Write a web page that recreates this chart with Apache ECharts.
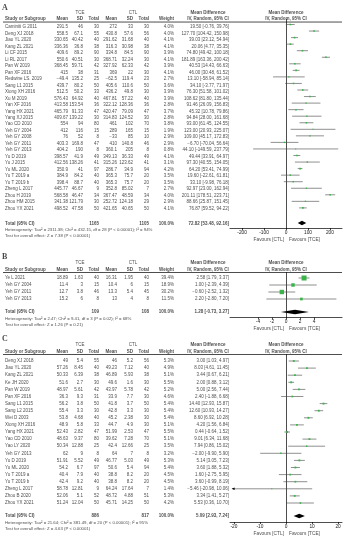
<!DOCTYPE html>
<html><head><meta charset="utf-8">
<script src="https://cdn.jsdelivr.net/npm/echarts@6/dist/echarts.min.js"></script>
<style>html,body{margin:0;padding:0;background:#fff}#c{width:350px;height:550px}</style>
</head><body><div id="c"></div>
<script>
// ================= DATA =================
// Panel A
const studiesA = ['Caminiti G 2011','Deng XJ 2018','Jiao YL 2020','Kang ZL 2021','Li CF 2015','Li RL 2017','Pan W 2019','Pan XF 2016','Redwine LS. 2019','Sang L1 2015','Xiong XH 2016','Xu M 2019','Yan XF 2016','Yang HX 2021','Yang XJ 2015','Yao CD 2010','Yeh GY 2004','Yeh GY 2008','Yeh GY 2011','Yeh GY 2013','Yu D 2019','Yu J 2015','Yu ML 2020','Yu T 2019 a','Yu T 2019 b','Zheng L 2017','Zhou H 2019','Zhou HM 2015','Zhou YX 2021'];
const tceMeanA = [291.5,558.5,330.65,336.36,409.6,550.6,368.45,415,-49.4,439.7,512.5,576.43,413.58,465.79,409.67,554,412,76,403.3,404.2,398.57,412.56,350.9,384.9,398.4,445.77,568.58,341.38,498.52];
const tceSdA = [46,67.1,40.42,36.8,89.2,40.51,59.71,38,135.2,80.2,50.2,64.92,153.54,91.33,139.22,94,116,52,169.8,190,41.9,138.26,41,84.2,88.7,46.67,46.47,121.79,47.58];
const tceNA = [30,55,40,38,90,30,42,31,25,50,33,40,36,47,30,80,15,8,47,8,49,41,97,40,40,9,34,30,50];
const ctlMeanA = [272,430.8,291.62,316.3,334.8,368.71,327.92,369,-62.5,405.6,436.2,467.81,322.12,420.47,314.83,461,289,-33,410,360.1,349.13,315.26,286.7,365.3,365.3,352.8,367.47,252.72,421.65];
const ctlSdA = [33,57.6,31.68,30.98,84.5,32.24,62.33,22,119.4,110.6,49.8,57.22,128.36,79.09,124.52,102,165,85,140.8,205,36.33,123.62,34.9,75.7,75.7,85.02,48.59,124.18,40.65];
const ctlNA = [30,56,40,38,90,30,42,30,23,50,30,40,36,47,30,70,15,10,46,8,49,41,94,20,20,7,34,29,50];
const weightA = [4.0,4.0,4.1,4.1,3.9,4.1,3.9,4.1,2.7,3.6,3.9,3.9,2.8,3.7,2.8,3.8,1.9,2.9,2.9,0.8,4.1,3.1,4.2,3.5,3.5,2.7,4.0,2.9,4.1];
const mdA = [19.50,127.70,39.03,20.06,74.80,181.89,40.53,46.00,13.10,34.10,76.30,108.62,91.46,45.32,94.84,93.00,123.00,109.00,-6.70,44.10,49.44,97.30,64.20,19.60,33.10,92.97,201.11,88.66,76.87];
const loA = [-0.76,104.42,23.12,4.77,49.42,163.36,14.43,30.48,-58.94,-3.77,51.58,81.80,26.09,10.78,28.00,61.45,20.93,45.17,-70.04,-149.59,33.91,40.55,53.41,-22.61,-9.98,23.00,178.51,25.87,59.52];
const hiA = [39.76,150.98,54.94,35.35,100.18,200.42,66.63,61.52,85.14,71.97,101.02,135.44,156.83,79.86,161.68,124.55,225.07,172.83,56.64,237.79,64.97,154.05,74.99,61.81,76.18,162.94,223.71,151.45,94.22];
const totalA = [1165, 1105, 72.82, 53.48, 92.16];
const hetA = 'Heterogeneity: Tau² = 2311.38; Chi² = 432.15, df = 28 (P < 0.00001); I² = 94%';
const testA = 'Test for overall effect: Z = 7.38 (P < 0.00001)';
const ticksA = [-200, -100, 0, 100, 200];

// Panel B
const studiesB = ['Ye L 2021','Yeh GY 2004','Yeh GY 2011','Yeh GY 2013'];
const tceMeanB = [18.89,11.4,12.7,15.2];
const tceSdB = [1.63,3,3.8,6];
const tceNB = [40,15,46,8];
const ctlMeanB = [16.31,10.4,13.3,13];
const ctlSdB = [1.95,6,5.4,4];
const ctlNB = [40,15,45,8];
const weightB = [39.4,18.9,30.2,11.5];
const mdB = [2.58,1.00,-0.60,2.20];
const loB = [1.79,-2.39,-2.52,-2.80];
const hiB = [3.37,4.39,1.32,7.20];
const totalB = [109, 108, 1.28, -0.73, 3.27];
const hetB = 'Heterogeneity: Tau² = 2.47; Chi² = 9.41, df = 3 (P = 0.02); I² = 68%';
const testB = 'Test for overall effect: Z = 1.26 (P = 0.21)';
const ticksB = [-4, -2, 0, 2, 4];

// Panel C
const studiesC = ['Deng XJ 2018','Jiao YL 2020','Kang ZL 2021','Ke JH 2020','Pan W 2019','Pan XF 2016','Sang L1 2015','Sang L2 2015','Wei D 2003','Xiong XH 2016','Yang HX 2021','Yao CD 2010','Yao LY 2020','Yeh GY 2013','Yu D 2019','Yu ML 2020','Yu T 2019 a','Yu T 2019 b','Zheng L 2017','Zhou B 2020','Zhou YX 2021'];
const tceMeanC = [49,57.26,50.33,51.6,48.97,36.3,56.2,55.4,53.8,48.9,52.43,48.63,50.34,62,51.91,54.2,40.4,42.4,58.78,52.06,51.24];
const tceSdC = [5.4,8.45,6.39,2.7,5.61,9.3,3.8,3.3,4.68,5.8,2.82,9.37,12.88,9,5.52,6.7,7.9,9.2,12.81,5.1,12.04];
const tceNC = [55,40,38,30,42,31,50,30,40,33,47,80,25,8,49,97,40,40,9,52,50];
const ctlMeanC = [46,49.23,46.89,49.6,43.97,33.9,41.8,42.8,45.2,44.7,51.99,39.62,42.4,64,46.77,50.6,38.8,38.8,64.24,48.72,45.71];
const ctlSdC = [5.2,7.12,5.93,1.6,5.78,7.7,3.7,3.3,2.38,4.9,2.53,7.28,12.66,7,5.03,5.4,8.2,8.2,17.64,4.88,14.25];
const ctlNC = [56,40,38,30,42,30,50,30,30,30,47,70,25,8,49,94,20,20,7,51,50];
const weightC = [5.3,4.9,5.1,5.5,5.2,4.6,5.4,5.4,5.4,5.1,5.5,5.1,3.5,3.2,5.3,5.4,4.5,4.5,1.4,5.3,4.2];
const mdC = [3.00,8.03,3.44,2.00,5.00,2.40,14.40,12.60,8.60,4.20,0.44,9.01,7.94,-2.00,5.14,3.60,1.60,3.60,-5.46,3.34,5.53];
const loC = [1.03,4.61,0.67,0.88,2.56,-1.88,12.93,10.93,6.92,1.56,-0.64,6.34,0.86,-9.90,3.05,1.88,-2.75,-0.99,-20.98,1.41,0.36];
const hiC = [4.97,11.45,6.21,3.12,7.44,6.68,15.87,14.27,10.28,6.84,1.52,11.68,15.02,5.90,7.23,5.32,5.95,8.19,10.06,5.27,10.70];
const totalC = [886, 817, 5.09, 2.93, 7.24];
const hetC = 'Heterogeneity: Tau² = 21.64; Chi² = 381.49, df = 20 (P < 0.00001); I² = 95%';
const testC = 'Test for overall effect: Z = 4.63 (P < 0.00001)';
const ticksC = [-20, -10, 0, 10, 20];

// ================= LAYOUT (pixels) =================
const FONT = 'Liberation Sans, Arial, sans-serif';
const FS = 4.5, FS_NOTE = 4.3, FS_AX = 4.8;
const COL = {name:5, tm:68, ts:83, tn:99, cm:117, cs:133, cn:149, w:174, md:229, tce:80, ctl:133, mdh1:208, mdh2:286, ruleL:3, ruleR:342};
const FOREST = {left:230, width:112};
const panels = [
  {key:'A', d:{names:studiesA,tm:tceMeanA,ts:tceSdA,tn:tceNA,cm:ctlMeanA,cs:ctlSdA,cn:ctlNA,w:weightA,md:mdA,lo:loA,hi:hiA,tot:totalA,het:hetA,test:testA,ticks:ticksA},
   L:{label:5, h1:10, h2:16, rule:19.3, rowY:24.5, step:6.55, total:223, het:230, test:236, axis:228, fav:240, xmin:-255, xmax:255, clip:null}},
  {key:'B', d:{names:studiesB,tm:tceMeanB,ts:tceSdB,tn:tceNB,cm:ctlMeanB,cs:ctlSdB,cn:ctlNB,w:weightB,md:mdB,lo:loB,hi:hiB,tot:totalB,het:hetB,test:testB,ticks:ticksB},
   L:{label:257, h1:263, h2:269.5, rule:272.5, rowY:278, step:7, total:312, het:319, test:325, axis:317.5, fav:329, xmin:-8, xmax:8, clip:null}},
  {key:'C', d:{names:studiesC,tm:tceMeanC,ts:tceSdC,tn:tceNC,cm:ctlMeanC,cs:ctlSdC,cn:ctlNC,w:weightC,md:mdC,lo:loC,hi:hiC,tot:totalC,het:hetC,test:testC,ticks:ticksC},
   L:{label:339, h1:345, h2:351.5, rule:354.5, rowY:361, step:7.1, total:516, het:522.5, test:528.5, axis:522, fav:534, xmin:-21.5, xmax:21.5, clip:-20.5}}
];

const num = v => (v < 0 ? '−' + String(-v) : String(v));
const f2 = v => (v < 0 ? '-' : '') + Math.abs(v).toFixed(2);
const ci = (m, l, h) => (m < 0 ? '−' + Math.abs(m).toFixed(2) : m.toFixed(2)) + ' [' + f2(l) + ', ' + f2(h) + ']';

const grids = [], xAxis = [], yAxis = [], series = [];

panels.forEach((p, pi) => {
  const L = p.L, d = p.d;
  const r = px => (px - L.rowY) / L.step + 1;
  const tg = grids.length;
  const rMin = r(L.label - 8), rMax = r(L.fav + 8);
  grids.push({left:0, width:350, top:L.rowY + (rMin - 1) * L.step, height:(rMax - rMin) * L.step});
  xAxis.push({type:'value', gridIndex:tg, min:0, max:350, show:false});
  yAxis.push({type:'value', gridIndex:tg, min:rMin, max:rMax, inverse:true, show:false});

  const items = [];
  const T = (x, row, text, pos, opt) => items.push({value:[x, row], t:text, label:Object.assign({position:pos}, opt || {})});
  const B = {fontWeight:'bold'};
  T(2, r(L.label), p.key, 'right', {fontFamily:'Liberation Serif, serif', fontWeight:'bold', fontSize:8});
  T(COL.tce, r(L.h1), 'TCE', 'inside', {});
  T(COL.ctl, r(L.h1), 'CTL', 'inside', {});
  T(COL.mdh1, r(L.h1), 'Mean Difference', 'inside', B);
  T(COL.mdh2, r(L.h1), 'Mean Difference', 'inside', B);
  const h2 = r(L.h2);
  T(COL.name, h2, 'Study or Subgroup', 'right', B);
  T(COL.tm, h2, 'Mean', 'left', B); T(COL.ts, h2, 'SD', 'left', B); T(COL.tn, h2, 'Total', 'left', B);
  T(COL.cm, h2, 'Mean', 'left', B); T(COL.cs, h2, 'SD', 'left', B); T(COL.cn, h2, 'Total', 'left', B);
  T(COL.w, h2, 'Weight', 'left', B);
  T(COL.mdh1, h2, 'IV, Random, 95% CI', 'inside', B);
  T(COL.mdh2, h2, 'IV, Random, 95% CI', 'inside', B);
  d.names.forEach((nm, i) => {
    const row = i + 1;
    T(COL.name, row, nm, 'right');
    T(COL.tm, row, num(d.tm[i]), 'left'); T(COL.ts, row, num(d.ts[i]), 'left'); T(COL.tn, row, String(d.tn[i]), 'left');
    T(COL.cm, row, num(d.cm[i]), 'left'); T(COL.cs, row, num(d.cs[i]), 'left'); T(COL.cn, row, String(d.cn[i]), 'left');
    T(COL.w, row, d.w[i].toFixed(1) + '%', 'left');
    T(COL.md, row, ci(d.md[i], d.lo[i], d.hi[i]), 'left');
  });
  const tr = r(L.total);
  T(COL.name, tr, 'Total (95% CI)', 'right', B);
  T(COL.tn, tr, String(d.tot[0]), 'left', B);
  T(COL.cn, tr, String(d.tot[1]), 'left', B);
  T(COL.w, tr, '100.0%', 'left', B);
  T(COL.md, tr, ci(d.tot[2], d.tot[3], d.tot[4]), 'left', B);
  T(COL.name, r(L.het), d.het, 'right', {fontSize:FS_NOTE});
  T(COL.name, r(L.test), d.test, 'right', {fontSize:FS_NOTE});
  const fz = FOREST.left + FOREST.width * (0 - L.xmin) / (L.xmax - L.xmin);
  T(fz - 2, r(L.fav), 'Favours [CTL]', 'left', {fontSize:FS_AX});
  T(fz + 3, r(L.fav), 'Favours [TCE]', 'right', {fontSize:FS_AX});

  series.push({type:'scatter', xAxisIndex:tg, yAxisIndex:tg, symbolSize:0, silent:true, animation:false,
    itemStyle:{color:'rgba(0,0,0,0)'},
    label:{show:true, distance:0, fontSize:FS, color:'#1a1a1a', fontFamily:FONT, formatter:q => q.data.t},
    data:items});
  series.push({type:'line', xAxisIndex:tg, yAxisIndex:tg, silent:true, animation:false, symbol:'none',
    lineStyle:{color:'#000', width:0.7}, data:[[COL.ruleL, r(L.rule)], [COL.ruleR, r(L.rule)]]});

  const fg = grids.length;
  grids.push({left:FOREST.left, width:FOREST.width, top:L.rule, height:L.axis - L.rule});
  xAxis.push({type:'value', gridIndex:fg, min:L.xmin, max:L.xmax, position:'bottom',
    axisLine:{onZero:false, lineStyle:{color:'#000', width:0.7}},
    axisTick:{customValues:d.ticks, length:2, lineStyle:{color:'#000', width:0.7}},
    axisLabel:{customValues:d.ticks, fontSize:FS_AX, margin:2, color:'#1a1a1a', fontFamily:FONT, formatter:v => (v < 0 ? '-' + (-v) : String(v))},
    splitLine:{show:false}});
  yAxis.push({type:'value', gridIndex:fg, min:r(L.rule), max:r(L.axis), inverse:true,
    axisLine:{show:true, onZero:true, lineStyle:{color:'#000', width:0.7}},
    axisTick:{show:false}, axisLabel:{show:false}, splitLine:{show:false}});

  const fdata = d.names.map((nm, i) => [i + 1, d.md[i], d.lo[i], d.hi[i], d.w[i], 0]);
  fdata.push([tr, d.tot[2], d.tot[3], d.tot[4], 100, 1]);
  const clip = L.clip;
  series.push({type:'custom', xAxisIndex:fg, yAxisIndex:fg, silent:true, animation:false, data:fdata,
    renderItem:(params, api) => {
      const row = api.value(0), md = api.value(1), lo = api.value(2), hi = api.value(3), w = api.value(4), kind = api.value(5);
      const pM = api.coord([md, row]);
      if (kind === 1) {
        const pL = api.coord([lo, row]), pH = api.coord([hi, row]), h = 2.3;
        return {type:'polygon', shape:{points:[[pL[0], pL[1]], [pM[0], pM[1] - h], [pH[0], pH[1]], [pM[0], pM[1] + h]]}, style:{fill:'#000'}};
      }
      const clipped = clip !== null && lo < clip;
      const pL = api.coord([clipped ? clip : lo, row]), pH = api.coord([hi, row]);
      const s = Math.max(1, 0.8 * Math.sqrt(w));
      const kids = [
        {type:'line', shape:{x1:pL[0], y1:pL[1], x2:pH[0], y2:pH[1]}, style:{stroke:'#444', lineWidth:0.6}},
        {type:'rect', shape:{x:pM[0] - s / 2, y:pM[1] - s / 2, width:s, height:s}, style:{fill:'#3cb44b'}}
      ];
      if (clipped) kids.push({type:'polygon', shape:{points:[[pL[0] - 1, pL[1]], [pL[0] + 2, pL[1] - 1.3], [pL[0] + 2, pL[1] + 1.3]]}, style:{fill:'#000'}});
      return {type:'group', children:kids};
    }});
});

const chart = echarts.init(document.getElementById('c'));
chart.setOption({animation:false, backgroundColor:'#fff', grid:grids, xAxis, yAxis, series});
</script></body></html>
